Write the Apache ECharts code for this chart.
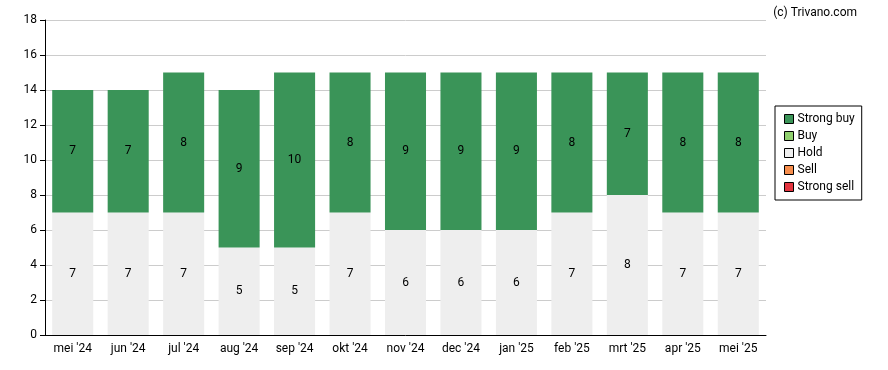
<!DOCTYPE html>
<html><head><meta charset="utf-8">
<script src="https://cdn.jsdelivr.net/npm/echarts@6/dist/echarts.min.js"></script>
<style>html,body{margin:0;padding:0;background:#fff}#c{width:888px;height:370px}</style>
</head><body><div id="c"></div>
<script>
const categories = ["mei '24","jun '24","jul '24","aug '24","sep '24","okt '24","nov '24","dec '24","jan '25","feb '25","mrt '25","apr '25","mei '25"];
const strongBuy = [7,7,8,9,10,8,9,9,9,8,7,8,8];
const buy = [0,0,0,0,0,0,0,0,0,0,0,0,0];
const hold = [7,7,7,5,5,7,6,6,6,7,8,7,7];
const sell = [0,0,0,0,0,0,0,0,0,0,0,0,0];
const strongSell = [0,0,0,0,0,0,0,0,0,0,0,0,0];
const yTicks = [0,2,4,6,8,10,12,14,16,18];

const font = 'Roboto, "Liberation Sans", sans-serif';
const lbl = {show:true, position:'inside', color:'#000', fontSize:12, fontFamily:font,
  formatter: p => p.value ? String(p.value) : ''};
function s(name, data, color){
  return {name, type:'bar', stack:'a', data, barWidth:'74%', label:lbl,
    itemStyle:{color}, emphasis:{disabled:true}};
}
const chart = echarts.init(document.getElementById('c'), null, {renderer:'canvas'});
chart.setOption({
  animation:false,
  textStyle:{fontFamily:font},
  grid:{left:45, right:122, top:20, bottom:35},
  title:{text:'(c) Trivano.com', right:26, top:2, textStyle:{fontSize:12, fontWeight:'normal', color:'#000', fontFamily:font}},
  legend:{orient:'vertical', left:775, top:106, width:87, padding:[7,7,7,9],
    borderColor:'#000', borderWidth:1, itemWidth:9, itemHeight:9, itemGap:5, icon:'rect',
    data:['Strong buy','Buy','Hold','Sell','Strong sell'],
    textStyle:{fontSize:12, color:'#000', fontFamily:font, padding:[0,0,0,-1]},
    itemStyle:{borderColor:'#000', borderWidth:1}},
  xAxis:{type:'category', data:categories,
    axisLine:{lineStyle:{color:'#000'}},
    axisTick:{alignWithLabel:true, lineStyle:{color:'#000'}},
    axisLabel:{color:'#000', fontSize:12, fontFamily:font, margin:8}},
  yAxis:{type:'value', min:yTicks[0], max:yTicks[yTicks.length-1], interval:2,
    axisLine:{show:true, lineStyle:{color:'#000'}},
    axisTick:{show:true, lineStyle:{color:'#000'}},
    axisLabel:{color:'#000', fontSize:12, fontFamily:font},
    splitLine:{lineStyle:{color:'#cccccc'}}},
  series:[
    s('Strong sell', strongSell, '#e3343f'),
    s('Sell', sell, '#f68d4c'),
    s('Hold', hold, '#eeeeee'),
    s('Buy', buy, '#90d06e'),
    s('Strong buy', strongBuy, '#3a9458')
  ]
});
</script></body></html>
